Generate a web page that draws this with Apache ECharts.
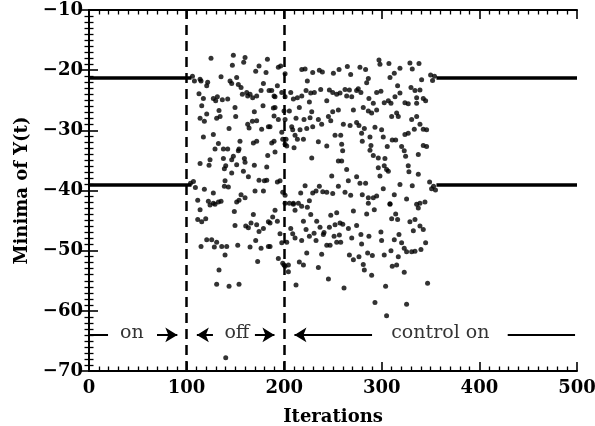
<!DOCTYPE html>
<html>
<head>
<meta charset="utf-8">
<script src="https://cdn.jsdelivr.net/npm/echarts@6/dist/echarts.min.js"></script>
<style>
  html, body { margin: 0; padding: 0; background: #fff; }
  #chart { width: 595px; height: 426px; }
</style>
</head>
<body>
<div id="chart"></div>
<script>
// converged levels (period-2 orbit) before and after chaos
var levelUpper = -21.3;
var levelLower = -39.1;
var onEnd = 105;      // last iteration of the first "on" stretch
var reOn = 356;       // control has pulled the orbit back in
var xEnd = 500;

// small curls where the orbit leaves / re-enters the levels
var hookPts = [[106,-21.0],[108,-21.8],[104,-38.8],[107,-38.5],[109,-39.5],
  [350,-20.8],[352,-21.7],[354,-21.0],[349,-38.6],[351,-39.7],[353,-39.3],[355,-39.9]];

// chaos, control off (100..200)
var offPts = [
  [125.0,-18.0],[147.9,-17.5],[159.9,-17.9],[158.5,-18.7],[146.9,-19.2],[174.2,-19.3],[182.8,-18.2],[170.8,-20.2],[181.4,-20.4],
  [113.8,-21.5],[114.8,-21.8],[121.6,-22.0],[120.6,-22.6],[135.3,-21.1],[151.3,-21.2],[144.5,-21.8],[146.2,-22.2],[153.0,-22.4],
  [155.8,-22.9],[178.7,-22.2],[184.5,-23.4],[112.7,-23.9],[117.2,-24.7],[127.4,-24.7],[131.5,-24.4],[129.8,-25.1],[136.6,-24.9],
  [142.1,-24.8],[157.1,-24.0],[161.6,-23.7],[165.0,-24.0],[162.6,-24.3],[167.7,-24.6],[171.8,-24.3],[176.3,-23.4],[115.5,-25.9],
  [149.6,-26.2],[178.3,-25.9],[133.2,-26.7],[169.4,-26.9],[113.8,-28.0],[118.2,-28.5],[120.6,-27.3],[130.8,-28.0],[134.3,-27.7],
  [150.3,-27.7],[167.4,-28.5],[162.6,-29.0],[164.0,-29.6],[171.8,-28.4],[176.9,-29.8],[143.5,-29.7],[183.8,-29.4],[117.2,-31.1],
  [127.4,-30.7],[132.6,-32.2],[168.4,-32.1],[171.8,-31.8],[154.7,-31.8],[129.1,-33.1],[137.7,-33.1],[142.1,-33.1],[153.7,-33.1],
  [153.0,-33.4],[183.1,-34.2],[113.8,-35.5],[124.0,-34.9],[123.0,-35.8],[137.7,-34.7],[147.9,-34.3],[146.2,-34.9],[159.2,-34.7],
  [159.9,-35.3],[140.1,-35.9],[138.7,-36.4],[151.3,-35.7],[169.4,-35.8],[182.1,-36.1],[146.2,-37.1],[158.2,-36.8],[163.3,-37.7],
  [174.2,-38.3],[182.1,-38.3],[179.7,-38.4],[139.4,-38.4],[138.7,-39.3],[142.8,-39.4],[118.2,-39.8],[127.4,-40.4],[170.1,-40.1],
  [178.7,-40.1],[155.8,-40.7],[159.9,-41.2],[111.4,-41.6],[122.3,-41.8],[127.4,-42.1],[132.6,-41.9],[135.3,-41.8],[151.3,-41.9],
  [153.7,-41.6],
  [194.0,-19.5],[196.4,-19.3],[193.0,-22.6],[187.2,-23.4],[189.6,-24.3],[190.6,-24.4],[197.5,-23.7],[190.6,-26.2],[188.9,-26.3],
  [199.8,-26.8],[189.6,-27.6],[194.0,-28.2],[185.5,-29.4],[197.5,-30.3],[198.5,-31.5],[187.2,-32.1],[189.6,-31.8],[190.6,-33.6],
  [193.0,-38.6],[195.7,-38.4],[198.5,-40.3],
  [113.8,-43.2],[124.0,-42.4],[129.1,-42.3],[148.9,-43.5],[168.4,-44.0],[111.4,-44.8],[115.5,-45.2],[119.6,-44.7],[149.6,-45.8],
  [160.6,-45.9],[163.3,-46.2],[166.0,-45.4],[171.8,-45.7],[174.2,-46.8],[178.7,-46.3],[183.8,-45.2],[114.8,-49.3],[120.6,-48.2],
  [125.7,-48.2],[130.8,-48.6],[128.4,-49.4],[136.0,-49.3],[141.1,-49.3],[152.4,-49.1],[165.0,-49.4],[170.8,-48.3],[176.3,-49.6],
  [183.8,-49.3],[139.4,-50.7],[172.8,-51.8],[133.2,-53.2],[130.8,-55.6],[143.5,-55.9],[153.7,-55.6],[140.1,-67.8],
  [190.6,-43.3],[188.2,-44.4],[185.5,-45.4],[193.0,-45.1],[195.7,-47.2],[197.5,-48.7],[185.5,-49.3],[194.0,-51.3],[198.5,-52.1],
  [199.8,-52.4]
];

// chaos, control switched on again (200..355)
var controlPts = [
  [218.0,-19.9],[221.4,-19.8],[229.2,-20.4],[236.0,-20.0],[239.1,-20.3],[250.4,-20.5],[256.2,-19.9],[264.7,-19.4],[268.1,-20.7],
  [223.7,-21.8],[200.9,-20.6],[200.9,-24.4],[206.7,-23.7],[209.4,-24.8],[213.5,-24.6],[218.0,-24.3],[222.4,-23.4],[227.2,-23.8],
  [230.9,-23.7],[225.8,-25.3],[237.4,-23.2],[243.6,-25.1],[246.3,-23.3],[249.7,-23.7],[253.8,-24.0],[257.2,-23.8],[262.3,-23.2],
  [266.8,-23.3],[264.0,-24.3],[269.2,-24.4],[205.3,-26.8],[215.5,-26.2],[228.2,-26.9],[249.7,-26.9],[255.5,-26.6],[270.9,-26.6],
  [200.9,-28.2],[212.1,-28.0],[220.3,-28.2],[226.5,-27.9],[235.0,-28.2],[238.4,-29.0],[245.3,-27.7],[247.7,-28.4],[260.6,-29.0],
  [267.5,-29.2],[207.7,-29.4],[208.7,-29.9],[216.2,-29.9],[223.1,-29.7],[229.2,-29.4],[201.9,-31.5],[211.1,-30.8],[213.5,-31.5],
  [219.7,-31.5],[235.0,-31.9],[252.1,-30.8],[257.9,-30.8],[200.9,-32.3],[202.6,-32.6],[210.1,-32.9],[243.6,-32.6],[258.9,-32.3],
  [228.2,-34.6],[259.9,-33.4],[255.5,-35.1],[258.9,-35.1],[264.0,-36.5],[248.7,-37.6],[265.7,-38.4],[221.4,-39.2],[236.0,-39.3],
  [255.5,-39.3],[200.9,-40.8],[216.9,-40.4],[229.2,-40.4],[232.6,-40.1],[239.5,-40.2],[243.6,-40.3],[249.7,-40.5],[262.3,-40.3],
  [268.1,-40.8],[225.8,-41.7],[200.9,-42.1],[205.3,-42.1],[209.4,-42.1],[214.5,-42.1],
  [297.1,-18.3],[298.1,-19.0],[307.3,-18.9],[328.8,-18.8],[338.1,-18.9],[331.2,-19.8],[277.6,-19.5],[283.4,-19.9],[318.6,-19.7],
  [312.8,-20.5],[308.4,-21.2],[286.2,-21.4],[284.5,-22.1],[340.8,-21.6],[316.2,-22.6],[275.9,-23.1],[278.6,-23.7],[274.2,-23.4],
  [294.7,-23.7],[299.1,-23.5],[318.6,-23.8],[329.9,-22.9],[334.0,-23.4],[339.1,-23.3],[335.7,-24.6],[342.5,-24.7],[344.9,-25.1],
  [286.8,-24.7],[291.3,-25.5],[302.5,-25.4],[306.7,-25.1],[309.4,-25.5],[313.5,-24.4],[323.7,-25.4],[327.1,-25.6],[335.7,-25.5],
  [281.0,-26.2],[286.2,-26.8],[289.6,-27.1],[294.7,-26.6],[310.1,-27.7],[315.2,-27.1],[316.9,-27.7],[330.6,-28.2],[335.7,-27.7],
  [274.2,-28.7],[276.6,-29.2],[282.1,-29.7],[293.0,-29.5],[299.8,-29.9],[323.7,-30.7],[327.1,-30.5],[333.3,-29.8],[339.1,-29.0],
  [342.5,-29.8],[345.9,-29.9],[279.3,-30.5],[280.0,-31.8],[287.9,-31.1],[301.5,-31.1],[310.7,-31.6],[314.2,-31.6],[320.3,-32.7],
  [323.0,-33.4],[324.4,-34.3],[305.6,-32.7],[288.9,-32.5],[287.9,-33.3],[342.5,-32.5],[345.9,-32.7],[337.4,-34.0],[291.3,-34.2],
  [296.4,-34.6],[303.2,-34.7],[302.5,-35.9],[304.9,-36.5],[306.7,-36.8],[296.4,-36.2],[327.1,-35.9],[327.8,-36.9],[298.1,-37.6],
  [337.4,-37.3],[274.2,-37.7],[277.6,-38.8],[283.4,-38.8],[318.6,-39.0],[331.2,-39.2],[301.5,-39.7],[280.0,-40.7],[286.2,-41.2],
  [291.3,-41.2],[294.7,-40.9],[312.8,-40.7],[325.4,-41.4],[339.1,-42.1],[344.2,-41.9],[286.2,-42.1],[308.4,-42.2],
  [211.1,-43.3],[217.9,-42.6],[223.7,-42.8],[227.2,-44.0],[209.4,-42.3],[219.7,-45.1],[233.3,-45.1],[236.7,-46.1],[247.7,-44.1],
  [253.8,-43.7],[257.2,-45.4],[270.9,-43.4],[202.6,-48.6],[206.7,-46.3],[208.7,-47.2],[211.1,-47.9],[217.9,-48.3],[222.4,-46.5],
  [225.8,-47.6],[230.6,-47.1],[232.6,-48.3],[240.1,-47.3],[240.8,-47.0],[246.3,-46.1],[251.1,-47.6],[252.1,-45.7],[256.5,-47.4],
  [257.9,-48.6],[260.0,-45.6],[265.8,-46.3],[269.2,-47.9],[243.6,-49.1],[247.0,-49.1],[253.8,-48.6],[204.3,-52.4],[204.3,-53.5],
  [200.9,-52.6],[215.5,-51.9],[219.7,-52.4],[223.1,-50.4],[238.4,-50.6],[235.0,-52.8],[266.8,-50.7],[270.9,-51.5],[212.1,-55.7],
  [245.3,-54.7],[261.3,-56.2],
  [284.5,-43.9],[292.3,-43.2],[308.4,-42.3],[314.2,-43.9],[310.1,-44.7],[316.2,-44.8],[335.7,-42.3],[337.4,-42.9],[328.8,-45.2],
  [334.0,-44.8],[332.3,-46.7],[339.1,-45.9],[342.5,-46.5],[274.2,-45.8],[278.6,-47.3],[286.8,-47.6],[299.1,-46.9],[299.8,-48.3],
  [312.8,-48.2],[317.6,-47.3],[320.3,-48.7],[323.0,-49.6],[279.3,-48.9],[276.6,-51.0],[285.5,-50.4],[290.3,-50.8],[302.5,-50.7],
  [309.4,-50.0],[316.9,-51.0],[325.4,-50.2],[330.6,-50.2],[334.0,-50.1],[340.1,-49.8],[344.9,-48.7],[281.0,-52.3],[282.1,-53.2],
  [289.6,-54.1],[310.7,-52.6],[315.2,-52.4],[323.0,-53.6],[303.9,-55.9],[346.9,-55.4],[293.0,-58.6],[325.4,-58.9],[304.9,-60.8]
];

// switching marks and the on/off annotation row
var switchAt = [100, 200];
var noteY = -64;
var noteText = ['on', 'off', 'control on'];
var noteX = [44, 151.5, 360];

var serif = 'DejaVu Serif';
var black = '#000';

function minus(v) { return String(v).replace('-', '\u2212'); }

function seg(a, b, headEnd) {
  return [
    { coord: [a, noteY], symbol: 'none' },
    { coord: [b, noteY], symbol: headEnd ? 'arrow' : 'none' }
  ];
}

var txt = { fontFamily: serif, fontSize: 18, fontWeight: 'bold', color: black };
var tickInside = { show: true, inside: true, length: 9, lineStyle: { color: black, width: 1.6 } };
var minorInside = { show: true, splitNumber: 10, length: 4.5, lineStyle: { color: black, width: 1.3 } };
var lineAx = { show: true, lineStyle: { color: black, width: 2 } };

var chart = echarts.init(document.getElementById('chart'), null, { renderer: 'canvas' });
chart.setOption({
  animation: false,
  backgroundColor: '#fff',
  grid: { left: 89, right: 18, top: 10, bottom: 55, outerBoundsMode: 'none', containLabel: false },
  xAxis: [{
    type: 'value', min: 0, max: xEnd, interval: 100,
    name: 'Iterations', nameLocation: 'middle', nameGap: 37,
    nameTextStyle: txt,
    axisLine: lineAx, axisTick: tickInside, minorTick: minorInside,
    splitLine: { show: false },
    axisLabel: Object.assign({ margin: 8 }, txt)
  }, {
    type: 'value', min: 0, max: xEnd, interval: 100, position: 'top',
    axisLine: lineAx, axisTick: tickInside, minorTick: minorInside,
    splitLine: { show: false }, axisLabel: { show: false }
  }],
  yAxis: [{
    type: 'value', min: -70, max: -10, interval: 10,
    name: 'Minima of Y(t)', nameLocation: 'middle', nameGap: 58,
    nameTextStyle: txt,
    axisLine: lineAx, axisTick: tickInside, minorTick: minorInside,
    splitLine: { show: false },
    axisLabel: Object.assign({ margin: 6, formatter: minus }, txt)
  }, {
    type: 'value', min: -70, max: -10, interval: 10, position: 'right',
    axisLine: lineAx, axisTick: tickInside, minorTick: minorInside,
    splitLine: { show: false }, axisLabel: { show: false }
  }],
  series: [
    {
      type: 'line', data: [[0, levelUpper], [onEnd, levelUpper]],
      symbol: 'none', lineStyle: { color: black, width: 3.5 },
      markLine: {
        silent: true, symbol: 'none', label: { show: false },
        lineStyle: { color: black, width: 2.5, type: [10, 6] },
        data: switchAt.map(function (v) { return { xAxis: v }; })
      }
    },
    { type: 'line', data: [[0, levelLower], [onEnd, levelLower]], symbol: 'none', lineStyle: { color: black, width: 3.5 } },
    { type: 'line', data: [[reOn, levelUpper], [xEnd, levelUpper]], symbol: 'none', lineStyle: { color: black, width: 3.5 } },
    {
      type: 'line', data: [[reOn, levelLower], [xEnd, levelLower]], symbol: 'none', lineStyle: { color: black, width: 3.5 },
      markLine: {
        silent: true, symbolSize: [11, 12], label: { show: false },
        lineStyle: { color: black, width: 2, type: 'solid' },
        data: [
          seg(0, 19.5, false), seg(69.7, 90.5, true),
          seg(127, 110.5, true), seg(170, 190, true),
          seg(290, 210.5, true), seg(429, 498, false)
        ]
      }
    },
    { type: 'scatter', data: hookPts, symbolSize: 5, itemStyle: { color: black } },
    { type: 'scatter', data: offPts, symbolSize: 5, itemStyle: { color: black } },
    { type: 'scatter', data: controlPts, symbolSize: 5, itemStyle: { color: black } },
    {
      type: 'scatter', symbolSize: 0, silent: true,
      data: noteX.map(function (x, i) { return [x, noteY, noteText[i]]; }),
      label: Object.assign({
        show: true, position: 'inside', offset: [0, -2],
        formatter: function (p) { return p.value[2]; }
      }, txt, { fontWeight: 'normal', fontSize: 19 })
    }
  ]
});
</script>
</body>
</html>
